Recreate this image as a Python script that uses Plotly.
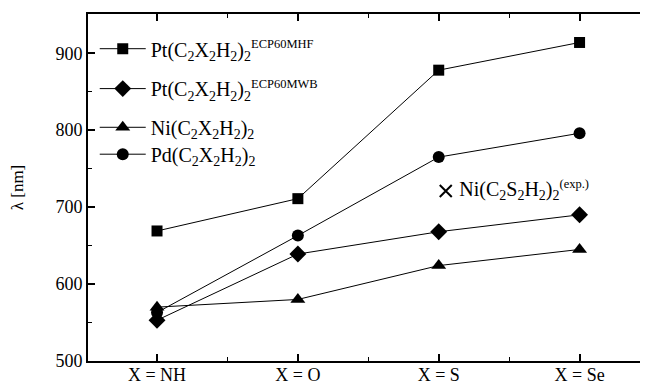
import plotly.graph_objects as go

categories = ["X = NH", "X = O", "X = S", "X = Se"]
pt_mhf = [669, 711, 878, 914]
pt_mwb = [553, 639, 668, 690]
ni = [570, 580, 624, 645]
pd_ = [563, 663, 765, 796]
exp_x = [2.05]
exp_val = [721]

xs = list(range(len(categories)))
FONT = "Liberation Serif"
SUP = "<sup><span style='font-size:12.5px'>%s</span></sup>"
SUB2 = "<sub>2</sub>"

fig = go.Figure()
series = [
    ("Pt(C" + SUB2 + "X" + SUB2 + "H" + SUB2 + ")" + SUB2 + SUP % "ECP60MHF", pt_mhf, "square", 11),
    ("Pt(C" + SUB2 + "X" + SUB2 + "H" + SUB2 + ")" + SUB2 + SUP % "ECP60MWB", pt_mwb, "diamond", 13),
    ("Ni(C" + SUB2 + "X" + SUB2 + "H" + SUB2 + ")" + SUB2, ni, "triangle-up", 13),
    ("Pd(C" + SUB2 + "X" + SUB2 + "H" + SUB2 + ")" + SUB2, pd_, "circle", 12),
]
legend_names = ["legend", "legend2", "legend3", "legend4"]
for i, (name, vals, sym, sz) in enumerate(series):
    fig.add_trace(go.Scatter(
        x=xs, y=vals, mode="lines+markers", name=name, legend=legend_names[i],
        line=dict(color="black", width=1),
        marker=dict(symbol=sym, size=sz, color="black"),
    ))

fig.add_trace(go.Scatter(
    x=exp_x, y=exp_val, mode="markers+text", showlegend=False,
    marker=dict(symbol="x-thin", size=12, line=dict(color="black", width=2)),
    text=[" Ni(C" + SUB2 + "S" + SUB2 + "H" + SUB2 + ")" + SUB2 + SUP % "(exp.)"],
    textposition="middle right",
    textfont=dict(family=FONT, size=20, color="black"),
))

tick_common = dict(showgrid=False, zeroline=False, automargin=False,
                   ticks="inside", ticklen=7, tickwidth=1.5, tickcolor="black")

# page body has an 8px default margin; figure is offset accordingly
legend_y = [0.900, 0.785, 0.6735, 0.596]
legends = {}
for ln, yy in zip(legend_names, legend_y):
    legends[ln] = dict(x=0.012, y=yy, xanchor="left", yanchor="middle",
                       bgcolor="rgba(0,0,0,0)", font=dict(family=FONT, size=20),
                       itemwidth=46)

fig.update_layout(
    width=642, height=377,
    margin=dict(l=80, r=0, t=6, b=24),
    paper_bgcolor="white", plot_bgcolor="white",
    font=dict(family=FONT, size=18, color="black"),
    **legends,
    xaxis=dict(
        range=[-0.49, 3.5], tickmode="array", tickvals=xs, ticktext=categories,
        showline=True, linecolor="black", linewidth=2, mirror="ticks",
        minor=dict(tickmode="array", tickvals=[-0.5, 0.5, 1.5, 2.5, 3.5], ticks="inside",
                   ticklen=4, tickwidth=1, tickcolor="black"),
        tickfont=dict(family=FONT, size=18), ticklabelstandoff=-4,
        **tick_common,
    ),
    yaxis=dict(
        range=[500, 951], tickmode="array", tickvals=[500, 600, 700, 800, 900],
        showline=True, linecolor="black", linewidth=2, mirror="ticks",
        minor=dict(tickmode="array", tickvals=[550, 650, 750, 850, 950], ticks="inside",
                   ticklen=4, tickwidth=1, tickcolor="black"),
        tickfont=dict(family=FONT, size=18),
        title=dict(text="λ [nm]", font=dict(family=FONT, size=17), standoff=30),
        **tick_common,
    ),
)

fig.write_html("out.html")
